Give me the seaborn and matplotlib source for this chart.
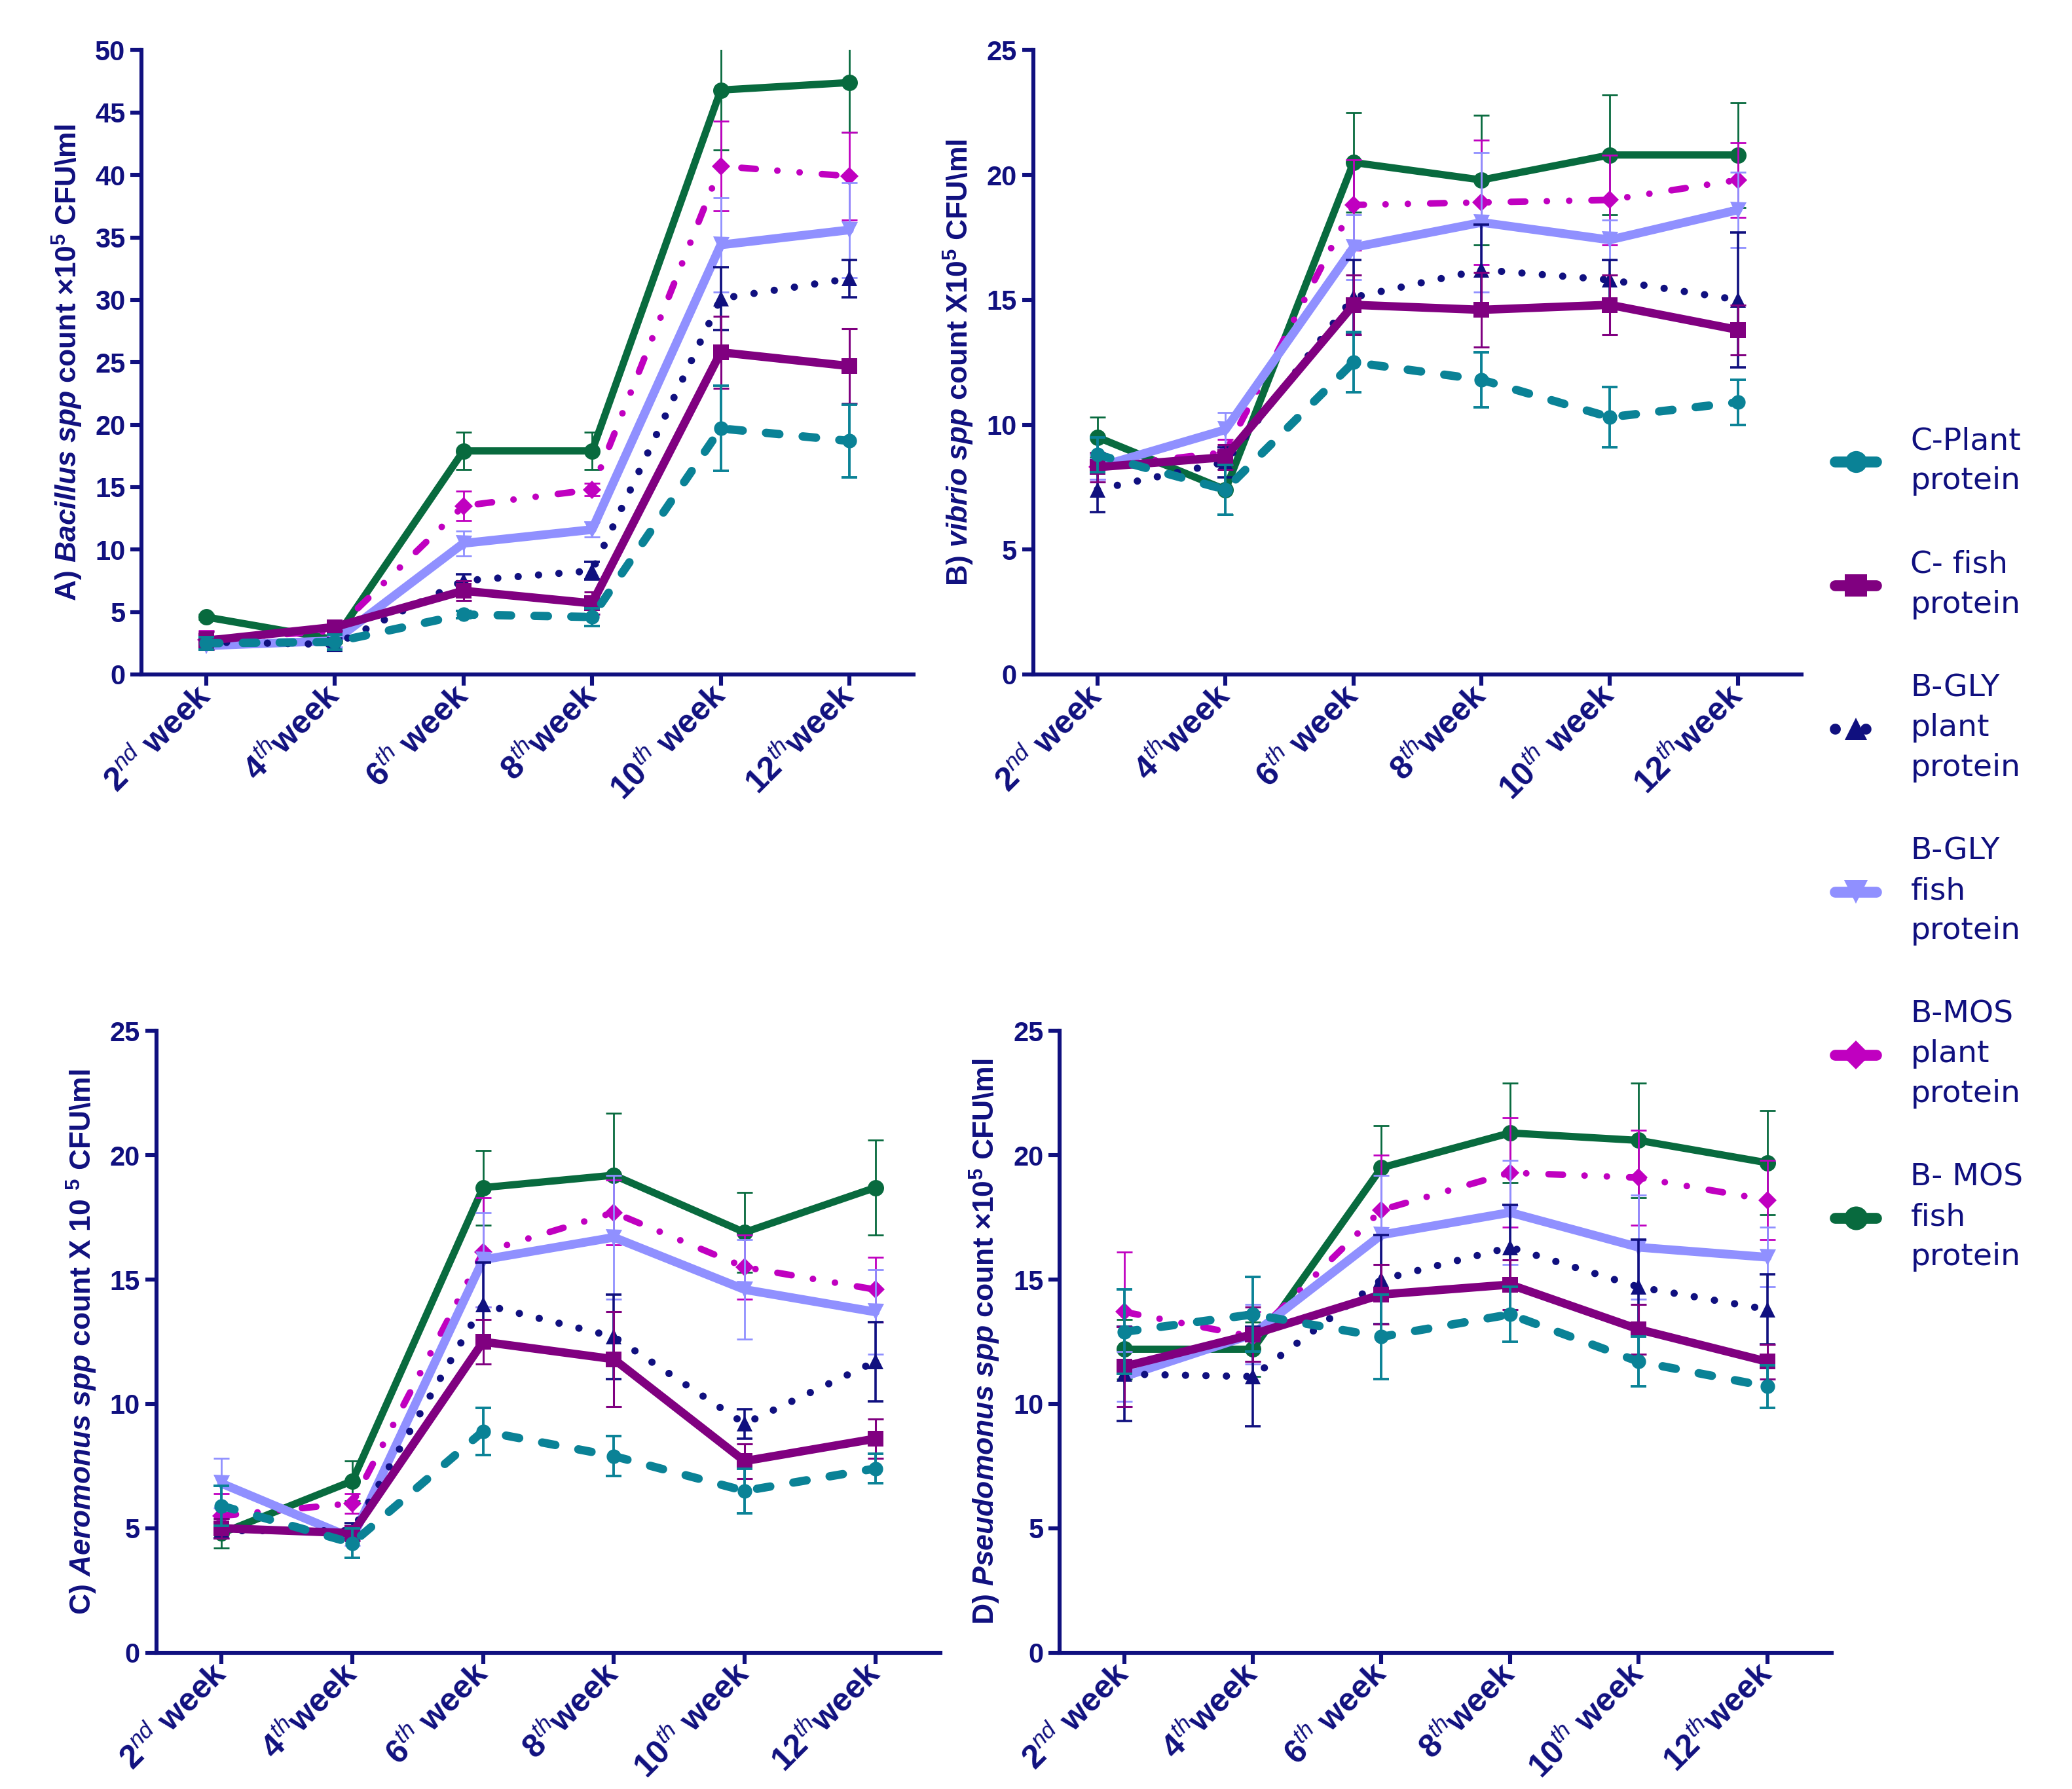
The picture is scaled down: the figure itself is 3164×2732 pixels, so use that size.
import matplotlib
matplotlib.use("Agg")
import matplotlib.pyplot as plt
import matplotlib.transforms as mtransforms
from matplotlib.lines import Line2D
import seaborn as sns
import numpy as np

sns.set_style("ticks")

BASE = "Liberation Sans"
plt.rcParams['font.family'] = [BASE, 'DejaVu Sans']
plt.rcParams['mathtext.fontset'] = 'custom'
plt.rcParams['mathtext.rm'] = BASE
plt.rcParams['mathtext.it'] = BASE + ':italic'
plt.rcParams['mathtext.bf'] = BASE + ':bold'
plt.rcParams['mathtext.bfit'] = BASE + ':bold:italic'

FS_YTICK, FS_YLAB, FS_XTICK = 15, 16, 18
NAVY = "#10107f"

weeks = [r"2$^{nd}$ week", r"4$^{th}$week", r"6$^{th}$ week",
         r"8$^{th}$week", r"10$^{th}$ week", r"12$^{th}$week"]

groups = ["C-Plant\nprotein", "C- fish\nprotein", "B-GLY\nplant\nprotein",
          "B-GLY\nfish\nprotein", "B-MOS\nplant\nprotein", "B- MOS\nfish\nprotein"]

# A) Bacillus
bac_c_plant = [2.5, 2.6, 4.8, 4.6, 19.7, 18.7]
bac_c_plant_err = [0.5, 0.6, 0.3, 0.7, 3.4, 2.9]
bac_c_fish = [2.7, 3.8, 6.7, 5.7, 25.8, 24.7]
bac_c_fish_err = [0.7, 0.3, 0.8, 0.9, 2.9, 3.0]
bac_gly_plant = [2.6, 2.4, 7.5, 8.3, 30.1, 31.7]
bac_gly_plant_err = [0.5, 0.5, 0.5, 0.7, 2.5, 1.5]
bac_gly_fish = [2.3, 2.7, 10.5, 11.6, 34.4, 35.6]
bac_gly_fish_err = [0.3, 0.5, 1.0, 0.6, 3.8, 3.8]
bac_mos_plant = [2.8, 3.5, 13.5, 14.8, 40.7, 39.9]
bac_mos_plant_err = [0.7, 0.4, 1.2, 0.5, 3.6, 3.5]
bac_mos_fish = [4.6, 2.8, 17.9, 17.9, 46.8, 47.4]
bac_mos_fish_err = [0.2, 0.3, 1.5, 1.5, 4.8, 4.0]

# B) vibrio
vib_c_plant = [8.8, 7.4, 12.5, 11.8, 10.3, 10.9]
vib_c_plant_err = [0.7, 1.0, 1.2, 1.1, 1.2, 0.9]
vib_c_fish = [8.3, 8.7, 14.8, 14.6, 14.8, 13.8]
vib_c_fish_err = [0.6, 0.5, 1.2, 1.5, 1.2, 1.0]
vib_gly_plant = [7.4, 8.5, 15.1, 16.2, 15.8, 15.0]
vib_gly_plant_err = [0.9, 0.6, 1.5, 1.8, 0.8, 2.7]
vib_gly_fish = [8.3, 9.8, 17.1, 18.1, 17.4, 18.6]
vib_gly_fish_err = [0.5, 0.7, 1.3, 2.8, 0.8, 1.5]
vib_mos_plant = [8.3, 8.9, 18.8, 18.9, 19.0, 19.8]
vib_mos_plant_err = [0.5, 0.5, 1.8, 2.5, 1.8, 1.5]
vib_mos_fish = [9.5, 7.4, 20.5, 19.8, 20.8, 20.8]
vib_mos_fish_err = [0.8, 1.0, 2.0, 2.6, 2.4, 2.1]

# C) Aeromonus
aer_c_plant = [5.9, 4.4, 8.9, 7.9, 6.5, 7.4]
aer_c_plant_err = [0.8, 0.6, 0.95, 0.8, 0.9, 0.6]
aer_c_fish = [5.0, 4.8, 12.5, 11.8, 7.7, 8.6]
aer_c_fish_err = [0.4, 0.3, 0.9, 1.9, 0.7, 0.8]
aer_gly_plant = [4.9, 4.9, 14.0, 12.7, 9.2, 11.7]
aer_gly_plant_err = [0.3, 0.3, 1.7, 1.7, 0.6, 1.6]
aer_gly_fish = [6.8, 4.6, 15.8, 16.7, 14.6, 13.7]
aer_gly_fish_err = [1.0, 0.3, 1.9, 2.5, 2.0, 1.7]
aer_mos_plant = [5.5, 6.0, 16.1, 17.7, 15.5, 14.6]
aer_mos_plant_err = [0.9, 0.4, 2.2, 1.3, 1.3, 1.3]
aer_mos_fish = [4.8, 6.9, 18.7, 19.2, 16.9, 18.7]
aer_mos_fish_err = [0.6, 0.8, 1.5, 2.5, 1.6, 1.9]

# D) Pseudomonus
pse_c_plant = [12.9, 13.6, 12.7, 13.6, 11.7, 10.7]
pse_c_plant_err = [1.7, 1.5, 1.7, 1.1, 1.0, 0.85]
pse_c_fish = [11.5, 12.8, 14.4, 14.8, 13.0, 11.7]
pse_c_fish_err = [1.6, 1.1, 1.2, 1.0, 1.0, 0.7]
pse_gly_plant = [11.2, 11.1, 15.0, 16.3, 14.7, 13.8]
pse_gly_plant_err = [1.9, 2.0, 1.8, 1.7, 1.9, 1.4]
pse_gly_fish = [11.1, 12.8, 16.8, 17.7, 16.3, 15.9]
pse_gly_fish_err = [1.0, 1.2, 2.4, 2.1, 2.1, 1.2]
pse_mos_plant = [13.7, 12.7, 17.8, 19.3, 19.1, 18.2]
pse_mos_plant_err = [2.4, 1.0, 2.2, 2.2, 1.9, 1.6]
pse_mos_fish = [12.2, 12.2, 19.5, 20.9, 20.6, 19.7]
pse_mos_fish_err = [1.2, 1.1, 1.7, 2.0, 2.3, 2.1]

# line styles per group (same order as groups)
styles = [
    dict(color="#0a8296", lw=4.6, ls=(0, (1.6, 2.8)), marker="o", ms=8, elw=1.4),
    dict(color="#800080", lw=4.6, ls="-", marker="s", ms=8.5, elw=1.1),
    dict(color="#10107f", lw=4.0, ls=(0, (0.01, 2.8)), marker="^", ms=8.5, elw=1.3),
    dict(color="#9090ff", lw=4.8, ls="-", marker="v", ms=9, elw=1.0),
    dict(color="#c000c0", lw=3.6, ls=(0, (2.2, 3.3, 0.01, 3.4, 0.01, 3.4)), marker="D", ms=7, elw=1.0),
    dict(color="#086a3e", lw=4.0, ls="-", marker="o", ms=9, elw=1.0),
]

panels = [
    dict(rect=[0.0684, 0.623, 0.3726, 0.349], ymax=50,
         ylabel=r"A) $\mathbfit{Bacillus\ spp}$ count ×10$^{\mathbf{5}}$ CFU\ml",
         series=[(bac_c_plant, bac_c_plant_err), (bac_c_fish, bac_c_fish_err),
                 (bac_gly_plant, bac_gly_plant_err), (bac_gly_fish, bac_gly_fish_err),
                 (bac_mos_plant, bac_mos_plant_err), (bac_mos_fish, bac_mos_fish_err)]),
    dict(rect=[0.4987, 0.623, 0.3709, 0.349], ymax=25,
         ylabel=r"B) $\mathbfit{vibrio\ spp}$ count X10$^{\mathbf{5}}$ CFU\ml",
         series=[(vib_c_plant, vib_c_plant_err), (vib_c_fish, vib_c_fish_err),
                 (vib_gly_plant, vib_gly_plant_err), (vib_gly_fish, vib_gly_fish_err),
                 (vib_mos_plant, vib_mos_plant_err), (vib_mos_fish, vib_mos_fish_err)]),
    dict(rect=[0.0754, 0.0763, 0.3786, 0.3474], ymax=25,
         ylabel=r"C) $\mathbfit{Aeromonus\ spp}$ count X 10 $^{\mathbf{5}}$ CFU\ml",
         series=[(aer_c_plant, aer_c_plant_err), (aer_c_fish, aer_c_fish_err),
                 (aer_gly_plant, aer_gly_plant_err), (aer_gly_fish, aer_gly_fish_err),
                 (aer_mos_plant, aer_mos_plant_err), (aer_mos_fish, aer_mos_fish_err)]),
    dict(rect=[0.5115, 0.0763, 0.3725, 0.3474], ymax=25,
         ylabel=r"D) $\mathbfit{Pseudomonus\ spp}$ count ×10$^{\mathbf{5}}$ CFU\ml",
         series=[(pse_c_plant, pse_c_plant_err), (pse_c_fish, pse_c_fish_err),
                 (pse_gly_plant, pse_gly_plant_err), (pse_gly_fish, pse_gly_fish_err),
                 (pse_mos_plant, pse_mos_plant_err), (pse_mos_fish, pse_mos_fish_err)]),
]

fig = plt.figure(figsize=(15.82, 13.66), dpi=200)
x = np.arange(len(weeks))

for p in panels:
    ax = fig.add_axes(p["rect"])
    # draw green first so the controls end up on top
    for (vals, err), st in reversed(list(zip(p["series"], styles))):
        ax.errorbar(x, vals, yerr=err, fmt="none", ecolor=st["color"],
                    elinewidth=st["elw"], capsize=4.2, capthick=st["elw"])
        sns.lineplot(x=x, y=vals, ax=ax, color=st["color"], lw=st["lw"],
                     linestyle=st["ls"], marker=st["marker"], markersize=st["ms"],
                     markeredgewidth=0, dash_capstyle="round")
    ax.set_xlim(-0.5, 5.5)
    ax.set_ylim(0, p["ymax"])
    ax.set_yticks(np.arange(0, p["ymax"] + 1, 5))
    ax.set_xticks(x)
    ax.set_xticklabels(weeks, rotation=45, ha="right", va="center",
                       rotation_mode="anchor", fontsize=FS_XTICK, fontweight="bold",
                       color=NAVY)
    offset = mtransforms.ScaledTranslation(10 / 72, -14 / 72, fig.dpi_scale_trans)
    for lab in ax.get_xticklabels():
        lab.set_transform(lab.get_transform() + offset)
    for lab in ax.get_yticklabels():
        lab.set_fontsize(FS_YTICK)
        lab.set_fontweight("bold")
        lab.set_color(NAVY)
    ax.set_ylabel(p["ylabel"], fontsize=FS_YLAB, fontweight="bold", color=NAVY,
                  labelpad=6)
    ax.set_xlabel("")
    sns.despine(ax=ax)
    for s in ["left", "bottom"]:
        ax.spines[s].set_color(NAVY)
        ax.spines[s].set_linewidth(2.2)
    ax.tick_params(axis="both", colors=NAVY, width=2.2, length=6, pad=3)

handles = []
for st in styles:
    ls = st["ls"] if st["marker"] == "^" else "-"
    handles.append(Line2D([0], [0], color=st["color"], lw=6, linestyle=ls,
                          marker=st["marker"], markersize=st["ms"] + 4,
                          markeredgewidth=0, dash_capstyle="round"))
leg = fig.legend(handles, groups, loc="upper left", bbox_to_anchor=(0.8855, 0.7615),
                 frameon=False, handlelength=1.35, labelspacing=1.75,
                 handletextpad=1.1, borderpad=0, borderaxespad=0,
                 prop={"family": "DejaVu Sans", "size": 17})
for t in leg.get_texts():
    t.set_color(NAVY)
    t.set_linespacing(1.45)

fig.savefig("out.png", dpi=200, facecolor="white")
